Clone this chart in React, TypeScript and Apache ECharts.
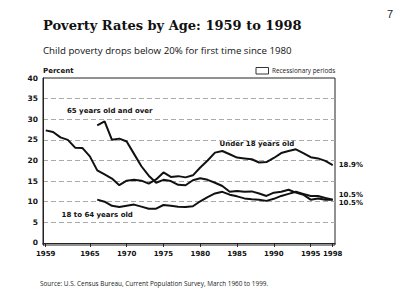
import React, { useEffect, useRef } from "react";
import * as echarts from "echarts";

const years = Array.from({ length: 40 }, (_, i) => 1959 + i);

const under18 = [
  27.3, 26.9, 25.6, 25.0, 23.1, 23.0, 21.0, 17.6, 16.6, 15.6,
  14.0, 15.1, 15.3, 15.1, 14.4, 15.4, 17.1, 16.0, 16.2, 15.9,
  16.4, 18.3, 20.0, 21.9, 22.3, 21.5, 20.7, 20.5, 20.3, 19.5,
  19.6, 20.6, 21.8, 22.3, 22.7, 21.8, 20.8, 20.5, 19.9, 18.9,
];

const years66 = years.filter((y) => y >= 1966);

const over65 = [
  28.5, 29.5, 25.0, 25.3, 24.6, 21.6, 18.6, 16.3, 14.6, 15.3,
  15.0, 14.1, 14.0, 15.2, 15.7, 15.3, 14.6, 13.8, 12.4, 12.6,
  12.4, 12.5, 12.0, 11.4, 12.2, 12.4, 12.9, 12.2, 11.7, 10.5,
  10.8, 10.5, 10.5,
];

const age18to64 = [
  10.5, 10.0, 9.0, 8.7, 9.0, 9.3, 8.8, 8.3, 8.3, 9.2,
  9.0, 8.8, 8.7, 8.9, 10.1, 11.1, 12.0, 12.4, 11.7, 11.3,
  10.8, 10.6, 10.5, 10.2, 10.7, 11.4, 11.9, 12.4, 11.9, 11.4,
  11.4, 10.9, 10.5,
];

const xTickLabels = [1959, 1965, 1970, 1975, 1980, 1985, 1990, 1995, 1998];
const yTicks = [0, 5, 10, 15, 20, 25, 30, 35, 40];
const yGrid = [5, 10, 15, 20, 25, 30, 35];

const seriesLabels = [
  { name: "65 years old and over", coord: [1967.7, 32.0] },
  { name: "Under 18 years old", coord: [1987.7, 23.9] },
  { name: "18 to 64 years old", coord: [1966.0, 6.8] },
];

const title = "Poverty Rates by Age: 1959 to 1998";
const subtitle = "Child poverty drops below 20% for first time since 1980";
const source = "Source: U.S. Census Bureau, Current Population Survey, March 1960 to 1999.";

const boldFont = "DejaVu Sans";

export default function App() {
  const ref = useRef<HTMLDivElement>(null);
  useEffect(() => {
    if (!ref.current) return;
    const chart = echarts.init(ref.current, null, { renderer: "svg" });
    const mkLine = (xs: number[], ys: number[], endDy: number, lbl: { name: string; coord: number[] }) => ({
      type: "line",
      data: xs.map((x, i) => [x, ys[i]]),
      showSymbol: false,
      symbol: "none",
      lineStyle: { color: "#111", width: 2 },
      itemStyle: { color: "#111" },
      endLabel: {
        show: true,
        formatter: (p: any) => p.value[1].toFixed(1) + "%",
        fontFamily: boldFont,
        fontWeight: "bold",
        fontSize: 7,
        color: "#111",
        distance: 6,
        offset: [0, endDy],
      },
      markPoint: {
        symbol: "rect",
        symbolSize: 1,
        itemStyle: { color: "rgba(0,0,0,0)" },
        label: {
          show: true,
          position: "inside",
          formatter: lbl.name,
          fontFamily: boldFont,
          fontWeight: "bold",
          fontSize: 7,
          color: "#111",
        },
        data: [{ coord: lbl.coord }],
      },
    });
    chart.setOption({
      animation: false,
      backgroundColor: "#fff",
      grid: {
        left: 43,
        top: 78,
        width: 292,
        height: 167,
        show: true,
        borderColor: "#222",
        borderWidth: 1,
        backgroundColor: "transparent",
      },
      xAxis: {
        type: "value",
        min: 1958.63,
        max: 1998.31,
        splitLine: { show: false },
        axisLine: { show: true, lineStyle: { color: "#222", width: 1 } },
        axisTick: {
          show: true,
          customValues: xTickLabels,
          length: 4,
          lineStyle: { color: "#222" },
        },
        axisLabel: {
          customValues: xTickLabels,
          formatter: (v: number) => String(v),
          fontFamily: boldFont,
          fontWeight: "bold",
          fontSize: 7,
          color: "#111",
          margin: 5,
        },
      },
      yAxis: {
        type: "value",
        min: -0.5,
        max: 40,
        axisLine: { show: true, lineStyle: { color: "#222", width: 1 } },
        axisTick: { show: false, customValues: yGrid },
        splitLine: {
          show: true,
          lineStyle: { color: "#aaa", type: [5, 3], width: 1 },
        },
        axisLabel: {
          customValues: yTicks,
          formatter: (v: number) => String(v),
          fontFamily: boldFont,
          fontWeight: "bold",
          fontSize: 7.5,
          color: "#111",
          margin: 5,
        },
      },
      graphic: [
        {
          type: "text",
          left: 43,
          top: 19,
          style: {
            text: title,
            fontFamily: "DejaVu Serif",
            fontWeight: "bold",
            fontSize: 13,
            fill: "#111",
          },
        },
        {
          type: "text",
          left: 387,
          top: 8,
          style: { text: "7", fontFamily: "Liberation Sans", fontSize: 11, fill: "#222" },
        },
        {
          type: "text",
          left: 43,
          top: 45,
          style: { text: subtitle, fontFamily: "Open Sans", fontSize: 9.7, fill: "#111" },
        },
        {
          type: "text",
          left: 43,
          top: 67,
          style: { text: "Percent", fontFamily: boldFont, fontWeight: "bold", fontSize: 7, fill: "#111" },
        },
        {
          type: "rect",
          shape: { x: 256, y: 67.5, width: 12.5, height: 6.5 },
          style: { fill: "#fff", stroke: "#333", lineWidth: 1 },
        },
        {
          type: "text",
          left: 272,
          top: 67,
          style: { text: "Recessionary periods", fontFamily: "Open Sans", fontSize: 6.4, fill: "#222" },
        },
        {
          type: "text",
          left: 40,
          top: 280,
          style: { text: source, fontFamily: "Open Sans", fontSize: 6.4, fill: "#222" },
        },
      ],
      series: [
        mkLine(years, under18, 0, seriesLabels[1]),
        mkLine(years66, over65, -5, seriesLabels[0]),
        mkLine(years66, age18to64, 3, seriesLabels[2]),
      ],
    });
    return () => chart.dispose();
  }, []);
  return <div ref={ref} style={{ width: 400, height: 308, position: "absolute", left: 0, top: 0 }} />;
}
